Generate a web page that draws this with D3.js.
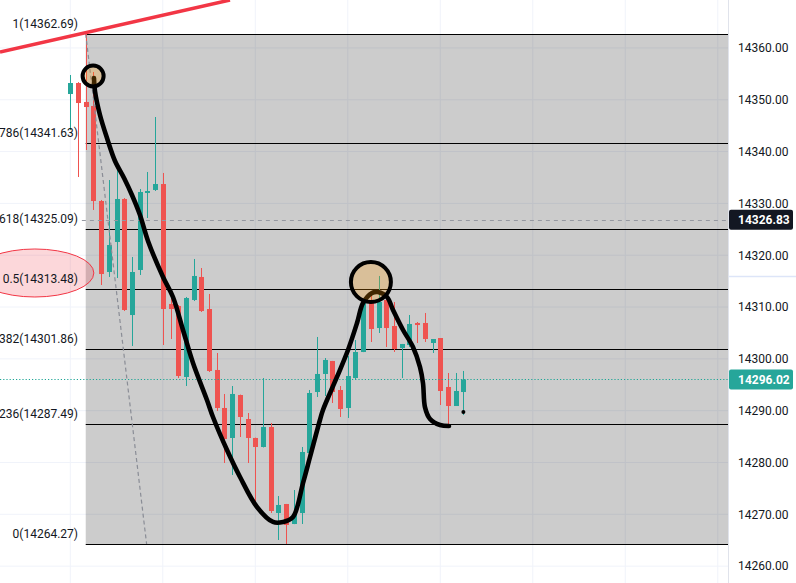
<!DOCTYPE html>
<html>
<head>
<meta charset="utf-8">
<script src="https://cdn.jsdelivr.net/npm/d3@7"></script>
<style>
  html, body { margin: 0; padding: 0; background: #fff; }
  svg { display: block; font-family: Roboto, "Noto Sans", sans-serif; }
</style>
</head>
<body>
<svg width="796" height="583"></svg>
<script>
// candles, one per bar (index 0..51)
var opens  = [14351.11,14353.23,14349.57,14348.80,14330.46,14316.76,14322.55,14330.85,14308.46,14317.15,14332.01,14332.59,14333.74,14310.59,14310.20,14296.50,14311.36,14315.80,14309.62,14297.85,14290.52,14284.73,14293.02,14288.39,14284.73,14282.99,14286.85,14270.25,14271.99,14268.13,14270.25,14281.83,14293.60,14297.08,14299.59,14293.99,14290.52,14296.30,14301.32,14310.97,14305.95,14311.36,14306.34,14302.09,14302.67,14306.92,14306.92,14303.06,14304.02,14294.57,14290.90,14293.60];
var highs  = [14354.78,14353.40,14362.69,14355.36,14330.66,14334.51,14336.44,14331.04,14319.66,14332.78,14336.06,14346.67,14335.87,14313.29,14310.39,14311.94,14319.27,14317.53,14312.52,14301.13,14293.22,14294.76,14293.10,14289.55,14284.80,14296.30,14287.62,14273.53,14272.00,14274.69,14282.99,14293.99,14304.22,14300.16,14299.60,14294.76,14300.55,14303.64,14310.97,14312.13,14315.99,14311.75,14310.97,14302.87,14308.46,14307.11,14308.85,14303.83,14304.02,14297.27,14297.27,14297.66];
var lows   = [14344.16,14335.09,14340.30,14328.73,14314.25,14315.80,14315.60,14309.23,14302.48,14316.18,14327.18,14332.39,14302.67,14303.83,14296.30,14294.76,14311.16,14309.04,14297.46,14289.94,14279.90,14277.59,14284.92,14279.90,14271.22,14282.90,14270.25,14265.04,14264.27,14268.10,14268.13,14281.80,14292.64,14292.83,14291.48,14288.78,14288.59,14295.92,14301.30,14303.25,14304.99,14302.29,14301.32,14296.30,14302.29,14303.06,14303.25,14301.13,14291.09,14287.04,14290.90,14289.16];
var closes = [14353.23,14349.37,14348.60,14330.46,14316.37,14321.97,14330.85,14309.43,14316.76,14332.20,14332.39,14333.74,14309.62,14309.62,14296.69,14311.74,14315.99,14309.23,14297.66,14290.52,14284.53,14293.22,14288.78,14284.73,14282.99,14286.85,14270.64,14271.80,14267.94,14270.06,14282.02,14293.41,14297.08,14299.78,14293.60,14290.32,14296.69,14301.32,14310.78,14305.76,14310.97,14305.95,14301.90,14302.87,14306.73,14306.53,14303.83,14303.83,14293.80,14290.90,14293.80,14296.02];

// fibonacci retracement
var fibRatios = ["1", "0.786", "0.618", "0.5", "0.382", "0.236", "0"];
var fibPrices = [14362.69, 14341.63, 14325.09, 14313.48, 14301.86, 14287.49, 14264.27];
var fibStartBar = 2, fibEndBar = 9.9;

// price axis
var priceTicks = [14260,14270,14280,14290,14300,14310,14320,14330,14340,14350,14360,14370];
var gridBars = [0,12,24,36,48,60,72,84];
var lastPrice = 14296.02;
var markPrice = 14326.83, markFromBar = 1.5;

// drawings, as [bar, price]
var trendLine = [[-9.12, 14359.22], [20.72, 14369.25]];
var handPath = [[3.07,14354.20],[3.20,14351.69],[3.85,14347.06],[4.76,14342.62],[5.80,14338.18],[6.97,14334.90],[8.00,14331.62],[9.04,14327.76],[10.08,14322.75],[12.03,14315.80],[13.32,14311.94],[14.62,14305.57],[15.92,14299.20],[17.73,14292.06],[18.51,14288.78],[20.33,14282.41],[22.02,14277.20],[24.22,14271.41],[26.30,14268.52],[27.59,14268.52],[28.89,14269.48],[30.19,14276.04],[31.10,14281.06],[32.39,14288.20],[32.78,14290.13],[34.60,14296.50],[36.03,14301.71],[37.20,14306.92],[37.98,14310.78],[39.14,14312.71],[39.92,14312.90],[41.09,14311.94],[41.87,14309.43],[43.17,14305.57],[44.46,14302.29],[45.37,14298.40],[45.76,14295.30],[46.02,14290.64],[46.67,14288.40],[47.97,14287.23],[49.13,14287.04]];
var circles = [{bar: 2.96, price: 14354.59, r: 10.5}, {bar: 39.0, price: 14314.83, r: 20}];
var dot = [51, 14289.74];
var ellipse = {bar: -4.6, price: 14316.57, rx: 59, ry: 24};

var svg = d3.select("svg");
var W = 796, H = 583, plotRight = 728;

var x = d3.scaleLinear().domain([0, 51]).range([70.3, 463.4]);
var y = d3.scaleLinear().domain([14264.27, 14362.69]).range([544, 34]);

var TEAL = "#26a69a", RED = "#ef5350";

svg.append("clipPath").attr("id", "plot")
  .append("rect").attr("width", plotRight).attr("height", H);

var g = svg.append("g").attr("clip-path", "url(#plot)");

// grid
g.selectAll(".vgrid").data(gridBars).enter().append("line")
  .attr("x1", d => x(d)).attr("x2", d => x(d))
  .attr("y1", 0).attr("y2", H)
  .attr("stroke", "#f0f3fa");
g.selectAll(".hgrid").data(priceTicks).enter().append("line")
  .attr("x1", 0).attr("x2", plotRight)
  .attr("y1", d => y(d)).attr("y2", d => y(d))
  .attr("stroke", "#f0f3fa");

// fib background + levels
g.append("rect")
  .attr("x", x(fibStartBar)).attr("y", y(fibPrices[0]))
  .attr("width", plotRight - x(fibStartBar))
  .attr("height", y(fibPrices[6]) - y(fibPrices[0]))
  .attr("fill", "#000").attr("fill-opacity", 0.2);

g.selectAll(".fib").data(fibPrices).enter().append("line")
  .attr("x1", x(fibStartBar)).attr("x2", plotRight)
  .attr("y1", d => Math.round(y(d)) + 0.5).attr("y2", d => Math.round(y(d)) + 0.5)
  .attr("stroke", "#000").attr("stroke-width", 1);

// candles
var bars = d3.range(opens.length).map(function(i) {
  return {i: i, o: opens[i], h: highs[i], l: lows[i], c: closes[i]};
});
var candle = g.selectAll(".candle").data(bars).enter().append("g");
candle.append("line")
  .attr("x1", d => Math.round(x(d.i)) + 0.5).attr("x2", d => Math.round(x(d.i)) + 0.5)
  .attr("y1", d => y(d.h)).attr("y2", d => y(d.l))
  .attr("stroke", d => d.c >= d.o ? TEAL : RED).attr("stroke-width", 1);
candle.append("rect")
  .attr("x", d => Math.round(x(d.i)) - 2)
  .attr("y", d => y(Math.max(d.o, d.c)))
  .attr("width", 5)
  .attr("height", d => Math.max(1, Math.abs(y(d.o) - y(d.c))))
  .attr("fill", d => d.c >= d.o ? TEAL : RED);

// fib trend line (dashed)
g.append("line")
  .attr("x1", x(fibStartBar)).attr("y1", y(fibPrices[0]))
  .attr("x2", x(fibEndBar)).attr("y2", y(fibPrices[6]))
  .attr("stroke", "#8a8d96").attr("stroke-width", 1.2)
  .attr("stroke-dasharray", "4,3");

// price lines
g.append("line")
  .attr("x1", x(markFromBar)).attr("x2", plotRight)
  .attr("y1", Math.round(y(markPrice)) + 0.5).attr("y2", Math.round(y(markPrice)) + 0.5)
  .attr("stroke", "#9598a1").attr("stroke-dasharray", "4,4");
g.append("line")
  .attr("x1", 0).attr("x2", plotRight)
  .attr("y1", Math.round(y(lastPrice)) + 0.5).attr("y2", Math.round(y(lastPrice)) + 0.5)
  .attr("stroke", "#1fa696").attr("stroke-width", 1.2).attr("stroke-dasharray", "1.2,2");

// red trend line
g.append("line")
  .attr("x1", x(trendLine[0][0])).attr("y1", y(trendLine[0][1]))
  .attr("x2", x(trendLine[1][0])).attr("y2", y(trendLine[1][1]))
  .attr("stroke", "#f23645").attr("stroke-width", 3.5);

// hand drawn path
var line = d3.line().x(d => x(d[0])).y(d => y(d[1])).curve(d3.curveCatmullRom);
g.append("path").datum(handPath)
  .attr("d", line)
  .attr("fill", "none").attr("stroke", "#000")
  .attr("stroke-width", 4.6).attr("stroke-linecap", "round").attr("stroke-linejoin", "round");

g.selectAll(".circ").data(circles).enter().append("circle")
  .attr("cx", d => x(d.bar)).attr("cy", d => y(d.price)).attr("r", d => d.r)
  .attr("fill", "rgba(255,152,0,0.25)")
  .attr("stroke", "#000").attr("stroke-width", 4);

g.append("circle")
  .attr("cx", x(dot[0])).attr("cy", y(dot[1])).attr("r", 2)
  .attr("fill", "#000");

// ellipse behind the 0.5 label
g.append("ellipse")
  .attr("cx", x(ellipse.bar)).attr("cy", y(ellipse.price))
  .attr("rx", ellipse.rx).attr("ry", ellipse.ry)
  .attr("fill", "rgba(242,54,69,0.2)")
  .attr("stroke", "#f23645").attr("stroke-width", 1);

// fib labels
g.selectAll(".fibLabel").data(fibPrices).enter().append("text")
  .attr("x", 78).attr("y", d => y(d) - 6)
  .attr("text-anchor", "end")
  .attr("font-size", 12).attr("fill", "#131722")
  .text((d, i) => fibRatios[i] + "(" + d.toFixed(2) + ")");

// price axis
svg.append("rect").attr("x", plotRight).attr("y", 0)
  .attr("width", W - plotRight).attr("height", H).attr("fill", "#fff");
svg.append("line").attr("x1", plotRight + 0.5).attr("x2", plotRight + 0.5)
  .attr("y1", 0).attr("y2", H).attr("stroke", "#e0e3eb");
svg.append("line").attr("x1", plotRight + 1).attr("x2", W)
  .attr("y1", 276.5).attr("y2", 276.5).attr("stroke", "#dde5f8").attr("stroke-width", 1.5);

var axis = svg.append("g")
  .attr("transform", "translate(" + plotRight + ",0)")
  .call(d3.axisRight(y).tickValues(priceTicks).tickFormat(d3.format(".2f")).tickSize(0).tickPadding(10));
axis.select(".domain").remove();
axis.selectAll("text").attr("font-size", 12).attr("fill", "#131722")
  .attr("font-family", "Roboto, 'Noto Sans', sans-serif");

function priceBadge(price, bg) {
  var b = svg.append("g").attr("transform", "translate(" + (plotRight + 1) + "," + y(price) + ")");
  b.append("rect").attr("x", 0).attr("y", -10).attr("width", 64).attr("height", 20)
    .attr("rx", 2).attr("fill", bg);
  b.append("text").attr("x", 9).attr("y", 4.5)
    .attr("font-size", 12).attr("font-weight", "bold").attr("fill", "#fff")
    .text(price.toFixed(2));
}
priceBadge(markPrice, "#131722");
priceBadge(lastPrice, TEAL);
</script>
</body>
</html>
